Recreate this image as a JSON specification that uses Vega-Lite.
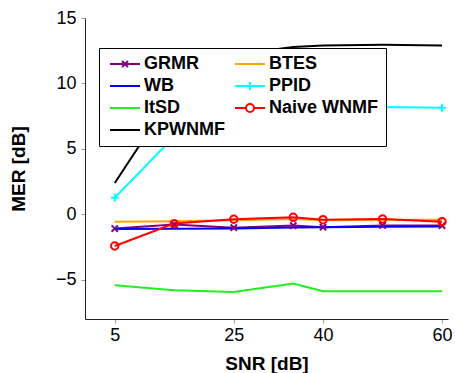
{
  "$schema": "https://vega.github.io/schema/vega-lite/v6.json",
  "autosize": {"type": "none"},
  "padding": {"left": 85, "top": 18, "right": 7, "bottom": 54},
  "width": 363,
  "height": 301,
  "config": {
    "view": {"stroke": null},
    "font": "Liberation Sans",
    "axis": {
      "grid": false,
      "domainColor": "#222",
      "domainWidth": 1,
      "tickColor": "#999",
      "tickSize": 4,
      "labelFont": "Liberation Sans",
      "labelFontSize": 18,
      "labelColor": "#000",
      "titleFont": "Liberation Sans",
      "titleFontSize": 19,
      "titleFontWeight": "bold",
      "titleColor": "#000"
    }
  },
  "data": {
    "values": [
      {"snr": 5, "mer": -1.09, "method": "GRMR"},
      {"snr": 15, "mer": -0.78, "method": "GRMR"},
      {"snr": 25, "mer": -1.02, "method": "GRMR"},
      {"snr": 35, "mer": -0.86, "method": "GRMR"},
      {"snr": 40, "mer": -0.98, "method": "GRMR"},
      {"snr": 50, "mer": -0.85, "method": "GRMR"},
      {"snr": 60, "mer": -0.86, "method": "GRMR"},
      {"snr": 5, "mer": -1.12, "method": "WB"},
      {"snr": 15, "mer": -1.1, "method": "WB"},
      {"snr": 25, "mer": -1.09, "method": "WB"},
      {"snr": 35, "mer": -1.0, "method": "WB"},
      {"snr": 40, "mer": -0.98, "method": "WB"},
      {"snr": 50, "mer": -0.95, "method": "WB"},
      {"snr": 60, "mer": -0.93, "method": "WB"},
      {"snr": 5, "mer": -5.42, "method": "ItSD"},
      {"snr": 15, "mer": -5.8, "method": "ItSD"},
      {"snr": 25, "mer": -5.93, "method": "ItSD"},
      {"snr": 35, "mer": -5.29, "method": "ItSD"},
      {"snr": 40, "mer": -5.88, "method": "ItSD"},
      {"snr": 50, "mer": -5.88, "method": "ItSD"},
      {"snr": 60, "mer": -5.88, "method": "ItSD"},
      {"snr": 5, "mer": 2.39, "method": "KPWNMF"},
      {"snr": 15, "mer": 9.3, "method": "KPWNMF"},
      {"snr": 25, "mer": 12.2, "method": "KPWNMF"},
      {"snr": 35, "mer": 12.78, "method": "KPWNMF"},
      {"snr": 40, "mer": 12.9, "method": "KPWNMF"},
      {"snr": 50, "mer": 12.95, "method": "KPWNMF"},
      {"snr": 60, "mer": 12.9, "method": "KPWNMF"},
      {"snr": 5, "mer": -0.56, "method": "BTES"},
      {"snr": 15, "mer": -0.54, "method": "BTES"},
      {"snr": 25, "mer": -0.46, "method": "BTES"},
      {"snr": 35, "mer": -0.36, "method": "BTES"},
      {"snr": 40, "mer": -0.46, "method": "BTES"},
      {"snr": 50, "mer": -0.41, "method": "BTES"},
      {"snr": 60, "mer": -0.41, "method": "BTES"},
      {"snr": 5, "mer": 1.27, "method": "PPID"},
      {"snr": 15, "mer": 5.95, "method": "PPID"},
      {"snr": 25, "mer": 7.6, "method": "PPID"},
      {"snr": 35, "mer": 8.0, "method": "PPID"},
      {"snr": 40, "mer": 8.1, "method": "PPID"},
      {"snr": 50, "mer": 8.2, "method": "PPID"},
      {"snr": 60, "mer": 8.14, "method": "PPID"},
      {"snr": 5, "mer": -2.42, "method": "Naive WNMF"},
      {"snr": 15, "mer": -0.71, "method": "Naive WNMF"},
      {"snr": 25, "mer": -0.38, "method": "Naive WNMF"},
      {"snr": 35, "mer": -0.23, "method": "Naive WNMF"},
      {"snr": 40, "mer": -0.41, "method": "Naive WNMF"},
      {"snr": 50, "mer": -0.36, "method": "Naive WNMF"},
      {"snr": 60, "mer": -0.56, "method": "Naive WNMF"}
    ]
  },
  "encoding": {
    "x": {
      "field": "snr", "type": "quantitative",
      "scale": {"domain": [0, 61], "nice": false, "zero": false},
      "axis": {"values": [5, 25, 40, 60], "title": "SNR [dB]", "labelPadding": 3, "titlePadding": 10}
    },
    "y": {
      "field": "mer", "type": "quantitative",
      "scale": {"domain": [-8, 15], "nice": false, "zero": false},
      "axis": {"values": [-5, 0, 5, 10, 15], "title": "MER [dB]", "labelPadding": 5, "titlePadding": 27}
    }
  },
  "layer": [
    {
      "mark": {"type": "line", "strokeWidth": 2},
      "encoding": {
        "color": {
          "field": "method", "type": "nominal",
          "scale": {
            "domain": ["GRMR", "WB", "ItSD", "KPWNMF", "BTES", "PPID", "Naive WNMF"],
            "range": ["#800080", "#0000ff", "#22ee22", "#000000", "#ffa500", "#00ffff", "#ff0000"]
          },
          "legend": {
            "title": null,
            "orient": "none",
            "legendX": 14,
            "legendY": 30,
            "columns": 2,
            "columnPadding": 6,
            "rowPadding": 4,
            "padding": 7,
            "strokeColor": "#000",
            "fillColor": "#fff",
            "cornerRadius": 0,
            "labelFont": "Liberation Sans",
            "labelFontSize": 18,
            "labelFontWeight": "bold",
            "labelColor": "#000",
            "symbolSize": 100,
            "symbolOffset": 10,
            "labelOffset": 10,
            "symbolStrokeWidth": 2,
            "labelLimit": 300,
            "encode": {
              "symbols": {
                "update": {
                  "shape": {"signal": "datum.value === 'GRMR' ? 'M-3,0H3M-0.6,-0.6L0.6,0.6M-0.6,0.6L0.6,-0.6' : datum.value === 'PPID' ? 'M-3,0H3M0,-0.8V0.8' : datum.value === 'Naive WNMF' ? 'M-3,0H-0.8A0.8,0.8 0 1,1 0.8,0A0.8,0.8 0 1,1 -0.8,0M0.8,0H3' : 'M-3,0H3'"},
                  "strokeWidth": {"value": 2}
                }
              }
            }
          }
        }
      }
    },
    {
      "transform": [{"filter": "datum.method === 'GRMR'"}],
      "mark": {"type": "point", "shape": "M-1,-1L1,1M-1,1L1,-1", "size": 40, "filled": false, "strokeWidth": 2, "color": "#800080", "opacity": 1}
    },
    {
      "transform": [{"filter": "datum.method === 'PPID'"}],
      "mark": {"type": "point", "shape": "M-1,0H1M0,-1V1", "size": 64, "filled": false, "strokeWidth": 2, "color": "#00ffff", "opacity": 1}
    },
    {
      "transform": [{"filter": "datum.method === 'Naive WNMF'"}],
      "mark": {"type": "point", "shape": "circle", "size": 55, "filled": false, "strokeWidth": 2, "color": "#ff0000", "opacity": 1}
    }
  ]
}
